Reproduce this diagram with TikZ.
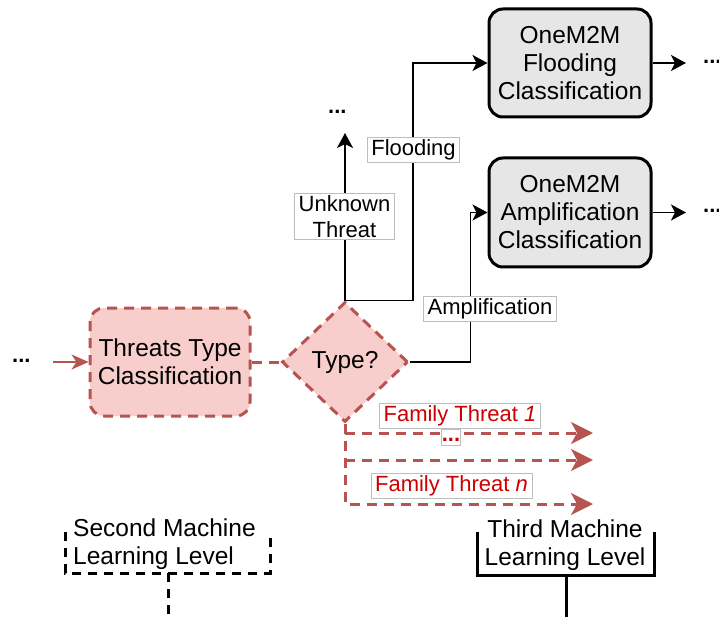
\documentclass[tikz,border=0pt]{standalone}
\usepackage{fontspec}
\setmainfont{Liberation Sans}
\usetikzlibrary{arrows.meta,shapes.geometric}
\definecolor{pinkfill}{HTML}{F8CECC}
\definecolor{redline}{HTML}{B85450}
\definecolor{greyfill}{HTML}{E6E6E6}
\definecolor{labelframe}{HTML}{BDBDBD}
\definecolor{redtext}{HTML}{CC0000}

\begin{document}
\begin{tikzpicture}[x=1pt,y=-1pt,
  boxfont/.style={font=\fontsize{24.5}{28}\selectfont},
  lblfont/.style={font=\fontsize{22}{26}\selectfont},
  redbox/.style={boxfont, draw=redline, fill=pinkfill, line width=3pt,
    dash pattern=on 10pt off 7pt, rounded corners=14pt,
    minimum width=160pt, minimum height=108pt, align=center, inner sep=0pt},
  decision/.style={boxfont, diamond, draw=redline, fill=pinkfill, line width=3pt,
    dash pattern=on 10pt off 7pt, minimum width=126pt, minimum height=120pt, inner sep=0pt},
  greybox/.style={boxfont, draw=black, fill=greyfill, line width=3pt, rounded corners=14pt,
    minimum width=162pt, minimum height=108pt, align=center, inner sep=0pt},
  lbl/.style={lblfont, draw=labelframe, fill=white, line width=0.8pt,
    inner xsep=4pt, inner ysep=2pt, align=center},
  redlbl/.style={lbl, text=redtext},
  dots/.style={font=\fontsize{22}{26}\selectfont\bfseries, inner sep=0pt},
  flow/.style={line width=1.7pt, -{Stealth[length=15pt,width=16pt,inset=4pt]}},
  redflow/.style={line width=2pt, draw=redline, -{Stealth[length=17pt,width=15pt,inset=5pt]}},
  reddash/.style={line width=3pt, draw=redline, dash pattern=on 10pt off 7pt},
  redbranch/.style={reddash, -{Stealth[length=22pt,width=22pt,inset=6pt]}},
  levelfont/.style={boxfont, inner sep=0pt},
  bracketdash/.style={line width=3pt, dash pattern=on 9pt off 7pt},
  bracketsolid/.style={line width=3pt}
]
\useasboundingbox (0,0) rectangle (719,617);

% main blocks
\node[redbox] (ttc) at (170,362) {Threats Type\\Classification};
\node[decision] (type) at (345,362) {Type?};
\node[greybox] (flood) at (570,63) {OneM2M\\Flooding\\Classification};
\node[greybox, minimum height=109pt] (amp) at (570,212.5) {OneM2M\\Amplification\\Classification};

% continuation dots
\node[dots, anchor=base west] (indots) at (12,362) {...};
\node[dots, anchor=base west] (updots) at (328,114) {...};
\node[dots, anchor=base west] (flooddots) at (703,64) {...};
\node[dots, anchor=base west] (ampdots) at (703,213) {...};

% free ends of the arrows
\coordinate (inarrow) at (53,362);
\coordinate (unkend) at (345,133);
\coordinate (floodout) at (686,63);
\coordinate (ampout) at (686,212.5);
\coordinate (f1) at (593,433);
\coordinate (f2) at (593,460);
\coordinate (fn) at (593,504);

% connectors
\draw[redflow] (inarrow) -- (ttc.west);
\draw[reddash] (ttc.east) -- (type.west);
\draw[flow] (type.north) -- (unkend);
\draw[flow] (type.north) -- ++(68,0) |- (flood.west);
\draw[flow] (type.east) -- ++(61,0) |- (amp.west);
\draw[flow] (flood.east) -- (floodout);
\draw[flow] (amp.east) -- (ampout);
\draw[redbranch] (type.south) |- (fn);
\draw[redbranch] (type.south |- f1) -- (f1);
\draw[redbranch] (type.south |- f2) -- (f2);

% connector labels
\node[lbl] (lunk) at (344.5,216.5) {Unknown\\Threat};
\node[lbl] (lflood) at (413.5,150) {Flooding};
\node[lbl] (lamp) at (490,309) {Amplification};
\node[redlbl] (lf1) at (460,416) {Family Threat \textit{1}};
\node[redlbl, font=\fontsize{22}{26}\selectfont\bfseries, inner xsep=0.5pt, inner ysep=0pt,
  text height=12pt, text depth=4pt] (lf2) at (451,437) {...};
\node[redlbl] (lfn) at (451.5,486) {Family Threat \textit{n}};

% machine learning levels
\node[levelfont, anchor=west, align=left] (second) at (73,544.5) {Second Machine\\Learning Level};
\draw[bracketdash] (65,532) -- (65,573) -- (270,573) -- (270,533);
\coordinate (secondfoot) at (168,573);
\coordinate (secondout) at (168,617);
\draw[bracketdash] (secondfoot) -- (secondout);

\node[levelfont, align=center] (third) at (565,545) {Third Machine\\Learning Level};
\draw[bracketsolid] (477,532) -- (477,575) -- (654,575) -- (654,532);
\coordinate (thirdfoot) at (566,575);
\coordinate (thirdout) at (566,617);
\draw[bracketsolid] (thirdfoot) -- (thirdout);
\end{tikzpicture}
\end{document}
